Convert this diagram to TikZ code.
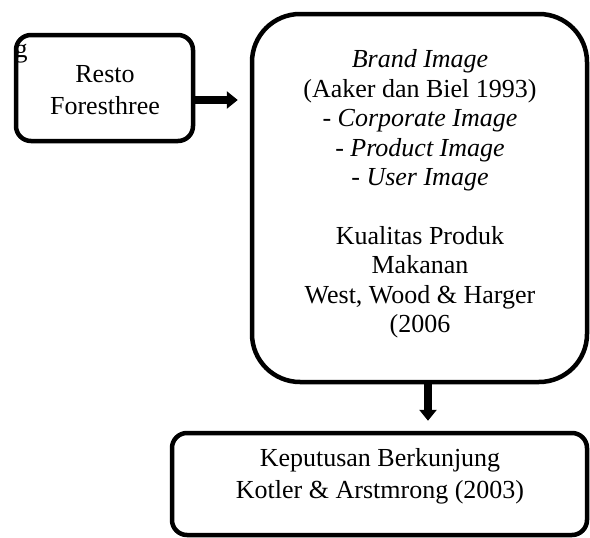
\documentclass[tikz,border=0pt]{standalone}
\usepackage{fontspec}
\setmainfont{Liberation Serif}
\usetikzlibrary{arrows.meta}
\begin{document}
\begin{tikzpicture}[x=1pt,y=-1pt,
  box/.style={draw=black, line width=4.5pt, inner sep=0pt},
  txt/.style={align=center, inner sep=0pt},
  fat/.style={line width=8.5pt, -{Triangle[length=11pt,width=17pt]}}]
\useasboundingbox (0,0) rectangle (590,538);
\node[txt, font=\fontsize{26}{30}\selectfont] (g) at (21,53.5) {g};
\node[box, rounded corners=15pt, minimum width=177pt, minimum height=106pt] (resto) at (104.5,88) {};
\node[txt, font=\fontsize{26}{32}\selectfont] (restotxt) at (105,90) {Resto\\Foresthree};
\node[box, rounded corners=48pt, minimum width=335pt, minimum height=368pt] (brand) at (419.5,198) {};
\node[txt, font=\fontsize{26}{29.5}\selectfont] (brandtxt) at (420,194) {\textit{Brand Image}\\(Aaker dan Biel 1993)\\- \textit{Corporate Image}\\- \textit{Product Image}\\- \textit{User Image}\\[29pt]Kualitas Produk\\Makanan\\West, Wood \& Harger\\(2006};
\node[box, rounded corners=15pt, minimum width=415pt, minimum height=102pt] (kep) at (379.5,484) {};
\node[txt, font=\fontsize{26}{32}\selectfont] (keptxt) at (380,476) {Keputusan Berkunjung\\Kotler \& Arstmrong (2003)};
\draw[fat, shorten >=12pt] ([yshift=-12pt]resto.east) -- ([yshift=-12pt]resto.east -| brand.west);
\draw[fat, shorten >=10pt] ([xshift=8.5pt]brand.south) -- ([xshift=8.5pt]brand.south |- kep.north);
\end{tikzpicture}
\end{document}
